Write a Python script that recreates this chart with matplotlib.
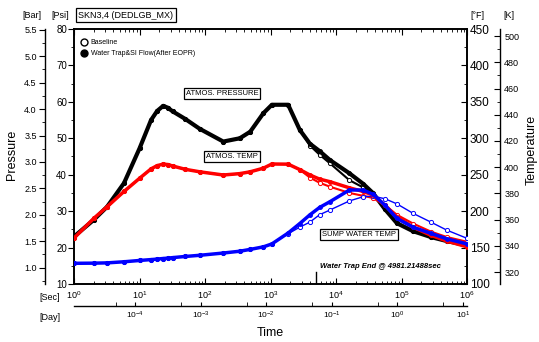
import matplotlib
matplotlib.use("Agg")
import matplotlib.pyplot as plt
from matplotlib.lines import Line2D
from matplotlib.ticker import MultipleLocator, LogLocator, FixedLocator, NullFormatter
import numpy as np

plt.rcParams['font.family'] = ['Liberation Sans', 'DejaVu Sans']

# time points (sec)
t_sec = [1, 2, 3.2, 5.8, 10, 15, 18.6, 23, 27, 32, 50, 83, 190, 340, 490, 780, 1050, 1860,
         2800, 4000, 5600, 8100, 16000, 26000, 37000, 56000, 85000, 150000,
         280000, 490000, 1000000]

# atmos. pressure [psi]
p_water = [23.0, 27.6, 31.2, 37.7, 47.2, 55.0, 57.5, 58.9, 58.4, 57.4, 55.3, 52.6, 49.1,
           50.0, 51.8, 56.9, 59.2, 59.2, 52.3, 48.5, 46.5, 44.0, 40.4, 37.5, 34.9, 30.5,
           26.7, 24.5, 22.9, 21.8, 20.6]
p_base = [23.0, 27.6, 31.2, 37.7, 47.2, 55.0, 57.5, 58.9, 58.4, 57.4, 55.3, 52.6, 49.1,
          50.0, 51.8, 56.9, 59.2, 59.2, 52.3, 48.0, 45.5, 43.1, 38.5, 36.5, 34.6, 30.5,
          26.7, 24.5, 22.9, 21.8, 20.8]

# atmos. temp [F]
ta_water = [163, 190, 206, 227, 245, 258, 262.5, 264.5, 264, 262, 257.4, 254, 249.6, 251.5,
            254, 259, 264.7, 264.5, 257, 249.6, 244, 240.4, 232, 227, 222, 208, 192.4,
            178, 167, 159, 151]
ta_base = [163, 190, 206, 227, 245, 258, 262.5, 264.5, 264, 262, 257.4, 254, 249.6, 251.5,
           254, 259, 264.7, 264.5, 257, 246, 239, 233.5, 225, 221, 218, 208, 195,
           183, 172, 164.5, 158]

# sump water temp [F]
ts_water = [128.4, 128.6, 129, 130.5, 132.3, 133.5, 134.2, 135, 135.5, 136.2, 137.8, 139.4,
            142.5, 145, 147.5, 151, 155, 170, 183, 195, 205, 213, 229, 229, 223, 208, 190,
            178, 169.6, 162, 155]
ts_base = [128.4, 128.6, 129, 130.5, 132.3, 133.5, 134.2, 135, 135.5, 136.2, 137.8, 139.4,
           142.5, 145, 147.5, 151, 155, 169, 178, 185, 195, 201.6, 214, 219.8, 220.5, 217,
           210, 197, 185, 174, 162.7]

trap_end = 4981.21488

fig = plt.figure(figsize=(5.39, 3.42), dpi=100)
ax = fig.add_axes([74/539, 1-284/342, 393/539, 255/342])
ax2 = ax.twinx()

ax.set_xscale('log')
ax.set_xlim(1, 1e6)
ax.set_ylim(10, 80)
ax2.set_ylim(100, 450)

# baseline (open circles)
ax.plot(t_sec, p_base, '-o', color='black', lw=1.5, ms=3, mfc='white', mew=0.7, zorder=3)
ax2.plot(t_sec, ta_base, '-o', color='red', lw=1.5, ms=3, mfc='white', mew=0.7, zorder=3)
ax2.plot(t_sec, ts_base, '-o', color='blue', lw=1.0, ms=3, mfc='white', mew=0.7, zorder=3)
# water trap (filled)
ax.plot(t_sec, p_water, '-o', color='black', lw=3, ms=2.5, zorder=4, solid_joinstyle='round')
ax2.plot(t_sec, ta_water, '-o', color='red', lw=2.5, ms=2.5, zorder=4, solid_joinstyle='round')
ax2.plot(t_sec, ts_water, '-o', color='blue', lw=2.5, ms=2.5, zorder=4, solid_joinstyle='round')

# main axis ticks
ax.xaxis.set_major_locator(LogLocator(base=10, numticks=10))
ax.xaxis.set_minor_locator(LogLocator(base=10, subs=np.arange(2, 10), numticks=20))
ax.xaxis.set_minor_formatter(NullFormatter())
ax.tick_params(axis='x', which='both', direction='in', top=True, labelsize=6.5, pad=4)
ax.tick_params(axis='x', which='major', length=4)
ax.tick_params(axis='x', which='minor', length=2)
ax.yaxis.set_major_locator(MultipleLocator(10))
ax.yaxis.set_minor_locator(MultipleLocator(5))
ax.tick_params(axis='y', which='both', direction='out', labelsize=7, pad=1)
ax.tick_params(axis='y', which='major', length=4)
ax.tick_params(axis='y', which='minor', length=2)

ax2.yaxis.set_major_locator(MultipleLocator(50))
ax2.yaxis.set_minor_locator(MultipleLocator(25))
ax2.tick_params(axis='y', which='both', direction='in', labelsize=8.5, pad=2)
ax2.tick_params(axis='y', which='major', length=4)
ax2.tick_params(axis='y', which='minor', length=2)

for a in (ax, ax2):
    for s in a.spines.values():
        s.set_linewidth(1.2)

# bar axis
bar = ax.secondary_yaxis(-29/393, functions=(lambda p: p/14.5038, lambda b: b*14.5038))
bar.yaxis.set_major_locator(FixedLocator(np.arange(1.0, 5.51, 0.5)))
bar.yaxis.set_minor_locator(MultipleLocator(0.25))
bar.yaxis.set_major_formatter(plt.FormatStrFormatter('%.1f'))
bar.tick_params(which='both', direction='out', labelsize=6.5, pad=2)
bar.tick_params(which='major', length=4)
bar.tick_params(which='minor', length=2)
bar.spines['left'].set_linewidth(1.0)

# kelvin axis
kel = ax2.secondary_yaxis(1 + 33/393, functions=(lambda f: (f-32)*5/9+273.15,
                                                 lambda k: (k-273.15)*9/5+32))
kel.yaxis.set_major_locator(FixedLocator(np.arange(320, 501, 20)))
kel.yaxis.set_minor_locator(MultipleLocator(10))
kel.tick_params(which='both', direction='in', labelsize=6.5, pad=3)
kel.tick_params(which='major', length=4)
kel.tick_params(which='minor', length=2)
kel.spines['right'].set_linewidth(1.0)

# day axis
day = ax.secondary_xaxis(-22/255, functions=(lambda s: s/86400.0, lambda d: d*86400.0))
day.set_xticks([1e-4, 1e-3, 1e-2, 1e-1, 1, 10])
day.xaxis.set_minor_locator(FixedLocator([5e-5, 5e-4, 5e-3, 5e-2, 5e-1, 5]))
day.xaxis.set_minor_formatter(NullFormatter())
day.tick_params(which='both', direction='in', labelsize=6, pad=3)
day.tick_params(which='major', length=3)
day.tick_params(which='minor', length=3)
day.spines['bottom'].set_linewidth(1.0)

# legend
handles = [Line2D([], [], ls='none', marker='o', color='black', mfc='white', ms=5, mew=1),
           Line2D([], [], ls='none', marker='o', color='black', ms=5)]
ax.legend(handles, ['Baseline', 'Water Trap&SI Flow(After EOPR)'], loc='upper left',
          frameon=False, fontsize=5, handlelength=1, handletextpad=0.5,
          labelspacing=0.6, bbox_to_anchor=(0.0, 0.985), borderaxespad=0.5)

# annotations
box = dict(boxstyle='square,pad=0.25', fc='white', ec='black', lw=0.9)
ax.text(182, 62.2, 'ATMOS. PRESSURE', fontsize=5.5, ha='center', va='center', bbox=box, zorder=6)
ax.text(258, 44.9, 'ATMOS. TEMP', fontsize=5.5, ha='center', va='center', bbox=box, zorder=6)
ax.text(22400, 23.5, 'SUMP WATER TEMP', fontsize=5.5, ha='center', va='center', bbox=box, zorder=6)
ax.text(5700, 14.7, 'Water Trap End @ 4981.21488sec', fontsize=5.5, fontweight='bold',
        fontstyle='italic', ha='left', va='center', zorder=6)
ax.plot([trap_end, trap_end], [10, 13.3], color='black', lw=1.0, zorder=6)

# labels
fig.text(32/539, 1-15/342, '[Bar]', fontsize=6.5, ha='center', va='center')
fig.text(60/539, 1-15/342, '[Psi]', fontsize=6.5, ha='center', va='center')
fig.text(126/539, 1-15/342, 'SKN3,4 (DEDLGB_MX)', fontsize=6.5, ha='center', va='center',
         bbox=dict(boxstyle='square,pad=0.25', fc='white', ec='black', lw=0.9))
fig.text(477/539, 1-15/342, '[°F]', fontsize=6.5, ha='center', va='center')
fig.text(509/539, 1-15/342, '[K]', fontsize=6.5, ha='center', va='center')
fig.text(50/539, 1-298/342, '[Sec]', fontsize=6.5, ha='center', va='center')
fig.text(50/539, 1-317/342, '[Day]', fontsize=6.5, ha='center', va='center')
fig.text(12/539, 1-155/342, 'Pressure', fontsize=9, rotation=90, ha='center', va='center')
fig.text(532/539, 1-150/342, 'Temperature', fontsize=9, rotation=90, ha='center', va='center')
fig.text(270/539, 1-333/342, 'Time', fontsize=9, ha='center', va='center')

fig.savefig('out.png', dpi=100)
